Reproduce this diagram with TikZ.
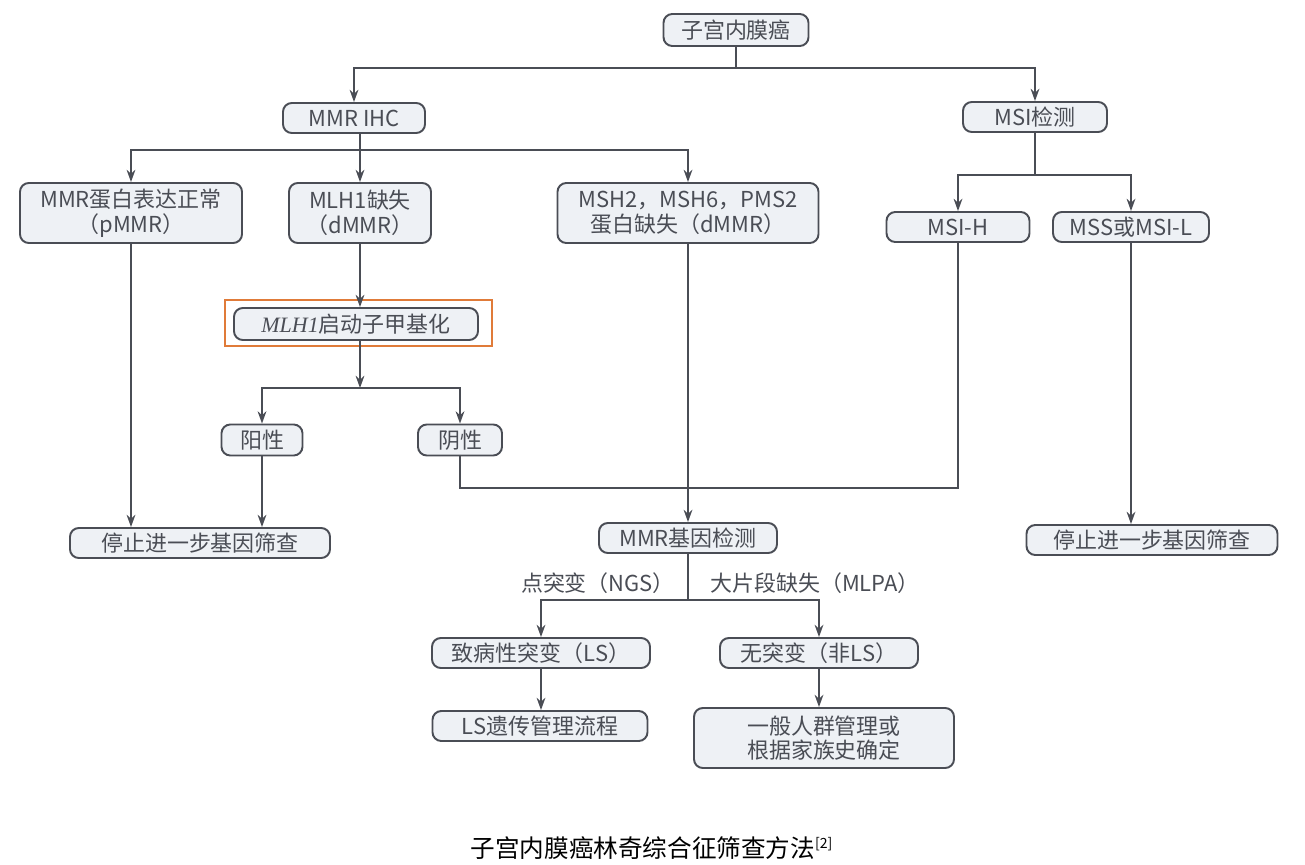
\documentclass[tikz,border=0pt]{standalone}
\usepackage{fontspec}
\setmainfont{Noto Sans CJK SC}
\newfontfamily\latinserif{Liberation Serif}
\usetikzlibrary{arrows.meta}
\definecolor{ink}{HTML}{4A4D55}
\definecolor{boxfill}{HTML}{EEF1F5}
\definecolor{hl}{HTML}{E07B39}
\begin{document}
\begin{tikzpicture}[x=0.02cm,y=-0.02cm,
  bx/.style 2 args={draw=ink,line width=1.1pt,rounded corners=5pt,fill=boxfill,text=ink,font=\fontsize{12.5}{14}\selectfont,align=center,inner sep=0pt,minimum width=#1*0.02cm,minimum height=#2*0.02cm},
  ln/.style={draw=ink,line width=1pt},
  ar/.style={ln,-{Stealth[length=7pt,width=5pt]}},
  lab/.style={text=ink,font=\fontsize{12.5}{14}\selectfont,inner sep=1pt}]
\useasboundingbox (0,0) rectangle (1305,865);
\node[bx={145}{32}] (root) at (736,30) {子宫内膜癌};
\node[bx={142}{30}] (ihc) at (354,118) {MMR IHC};
\node[bx={144}{30}] (msi) at (1035,117) {MSI检测};
\node[bx={222}{60}] (pmmr) at (131,213) {MMR蛋白表达正常\\（pMMR）};
\node[bx={142}{60}] (mlh1) at (360,213) {MLH1缺失\\（dMMR）};
\node[bx={261}{60}] (msh) at (688,213) {MSH2，MSH6，PMS2\\蛋白缺失（dMMR）};
\node[bx={143}{30}] (msih) at (958,227) {MSI-H};
\node[bx={156}{30}] (mss) at (1131,227) {MSS或MSI-L};
\node[bx={244}{32}] (meth) at (356,324) {{\latinserif\itshape MLH1}启动子甲基化};
\draw[hl,line width=1.3pt] (225,300) rectangle (492,346);
\node[bx={81}{31}] (pos) at (262,440) {阳性};
\node[bx={84}{31}] (neg) at (460,440) {阴性};
\node[bx={260}{30}] (stopl) at (200,543) {停止进一步基因筛查};
\node[bx={178}{30}] (gene) at (688,538) {MMR基因检测};
\node[bx={251}{30}] (stopr) at (1152,540) {停止进一步基因筛查};
\node[bx={218}{30}] (ls) at (541,653) {致病性突变（LS）};
\node[bx={198}{30}] (nols) at (819,653) {无突变（非LS）};
\node[bx={215}{30}] (lsm) at (540,726) {LS遗传管理流程};
\node[bx={260}{60}] (gen) at (824,738) {一般人群管理或\\根据家族史确定};
\node[lab] (l1) at (598,583) {点突变（NGS）};
\node[lab] (l2) at (815,583) {大片段缺失（MLPA）};
\node[font=\fontsize{14}{16}\selectfont] (cap) at (652,848) {子宫内膜癌林奇综合征筛查方法\textsuperscript{\fontsize{8}{9}\selectfont[2]}};
\coordinate (r1) at (736,68);
\draw[ln] (root.south) -- (r1);
\draw[ar] (r1) -| (ihc.north);
\draw[ar] (r1) -| (msi.north);
\coordinate (i1) at (360,150);
\draw[ln] (ihc.south -| i1) -- (i1);
\draw[ar] (i1) -| (pmmr.north);
\draw[ar] (i1) -- (mlh1.north);
\draw[ar] (i1) -| (msh.north);
\draw[ar] (mlh1.south) -- (meth.north -| mlh1.south);
\coordinate (m1) at (360,388);
\draw[ar] (meth.south -| m1) -- (m1);
\draw[ar] (m1) -| (pos.north);
\draw[ar] (m1) -| (neg.north);
\draw[ar] (pmmr.south) -- (pmmr.south |- stopl.north);
\draw[ar] (pos.south) -- (pos.south |- stopl.north);
\coordinate (n1) at (460,488);
\draw[ln] (neg.south) -- (n1) -| (msih.south);
\draw[ar] (msh.south) -- (gene.north);
\coordinate (s1) at (1035,175);
\draw[ln] (msi.south) -- (s1);
\draw[ar] (s1) -| (msih.north);
\draw[ar] (s1) -| (mss.north);
\draw[ar] (mss.south) -- (mss.south |- stopr.north);
\coordinate (g1) at (688,600);
\draw[ln] (gene.south) -- (g1);
\draw[ar] (g1) -| (ls.north);
\draw[ar] (g1) -| (nols.north);
\draw[ar] (ls.south) -- (ls.south |- lsm.north);
\draw[ar] (nols.south) -- (nols.south |- gen.north);
\end{tikzpicture}
\end{document}
